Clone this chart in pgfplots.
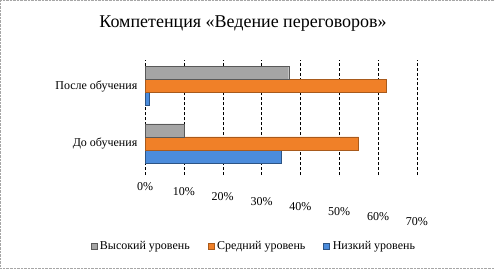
\documentclass[border=0pt]{standalone}
\usepackage{pgfplots}
\pgfplotsset{compat=1.18}
\usepackage{fontspec}
\setmainfont{Liberation Serif}
\definecolor{cgray}{RGB}{165,165,165}
\definecolor{corange}{RGB}{240,128,40}
\definecolor{cblue}{RGB}{75,140,220}
\begin{document}
\begin{tikzpicture}
\path[use as bounding box, draw=gray!70, densely dotted] (0,0) rectangle (495bp,268bp);
\node[font=\fontsize{18bp}{20bp}\selectfont] at (243bp,245bp) {Компетенция «Ведение переговоров»};
\begin{axis}[
  at={(145bp,93bp)}, anchor=south west,
  scale only axis, width=272bp, height=115bp,
  xbar, bar width=13bp,
  xmin=0, xmax=70, ymin=-0.55, ymax=1.45,
  xtick={0,10,...,70},
  xticklabel={\pgfmathprintnumber{\tick}\%},
  /pgf/number format/assume math mode=true,
  ytick={0,1}, yticklabels={До обучения, После обучения},
  tick style={draw=none},
  axis line style={draw=none},
  xmajorgrids, major grid style={black, densely dashed, line width=0.4pt},
  tick label style={font=\fontsize{12bp}{14bp}\selectfont},
  xticklabel style={yshift={-4bp-5bp*\ticknum}},
  legend style={at={(0.4,-0.62)}, anchor=center, draw=none, legend columns=3,
    font=\fontsize{12bp}{14bp}\selectfont, column sep=1bp,
    /tikz/every even column/.append style={column sep=16bp}},
  legend image code/.code={\fill[#1] (0bp,-3bp) rectangle (6bp,3bp);},
  reverse legend,
]
\addplot[fill=cblue, draw=cblue!60!black, bar shift=-13bp] coordinates {(35,0) (1,1)};
\addplot[fill=corange, draw=corange!70!black, bar shift=0bp] coordinates {(55,0) (62,1)};
\addplot[fill=cgray, draw=gray!70!black, bar shift=13bp] coordinates {(10,0) (37,1)};
\legend{Низкий уровень, Средний уровень, Высокий уровень}
\end{axis}
\end{tikzpicture}
\end{document}
